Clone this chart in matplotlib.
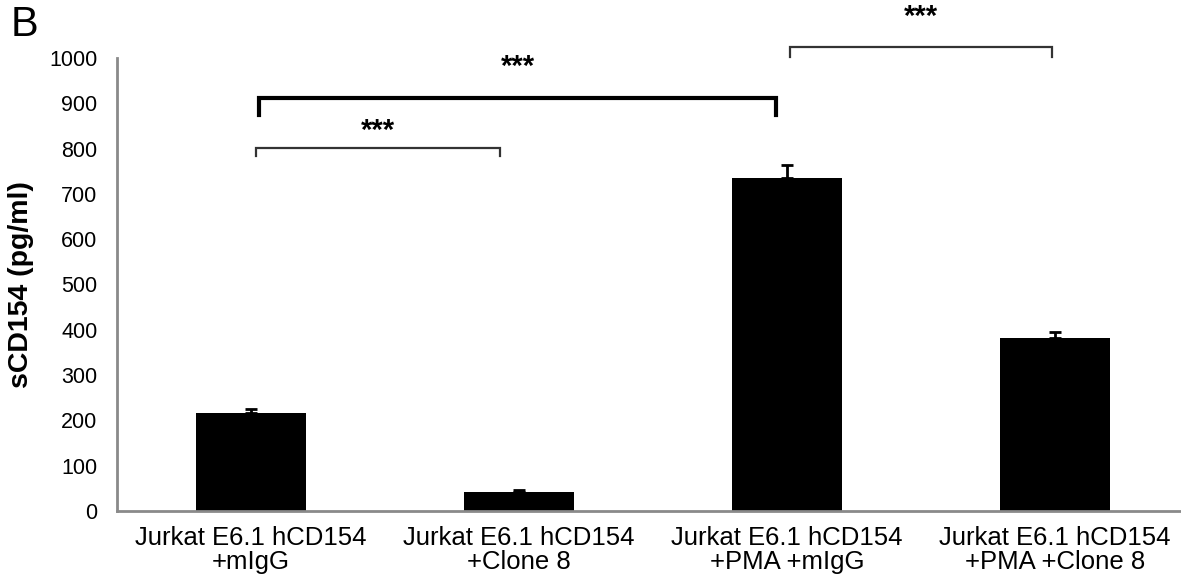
import matplotlib.pyplot as plt
import numpy as np

# data
groups = ["Jurkat E6.1 hCD154\n+mIgG", "Jurkat E6.1 hCD154\n+Clone 8",
          "Jurkat E6.1 hCD154\n+PMA +mIgG", "Jurkat E6.1 hCD154\n+PMA +Clone 8"]
means = [216, 43, 735, 382]
errors = [9, 3, 29, 13]
y_ticks = [0, 100, 200, 300, 400, 500, 600, 700, 800, 900, 1000]

# significance brackets: (x_start, x_end, y_line, y_tick_end, y_star, label)
brackets = [
    (0.02, 0.93, 801, 784, 838, "***"),
    (0.03, 1.96, 912, 874, 980, "***"),
    (2.01, 2.99, 1024, 1002, 1090, "***"),
]

plt.rcParams['font.family'] = ['Liberation Sans', 'DejaVu Sans']

fig = plt.figure(figsize=(11.81, 5.85), dpi=100)
ax = fig.add_axes([0.099, 0.1265, 0.901, 0.7744])

x = np.arange(len(groups))
ax.bar(x, means, width=0.41, color='black', zorder=2)
ax.errorbar(x, means, yerr=[np.zeros(len(errors)), errors], fmt='none',
            ecolor='black', elinewidth=2, capsize=4.5, capthick=2, zorder=3)

ax.set_xlim(-0.5, 3.47)
ax.set_ylim(0, 1000)
ax.set_yticks(y_ticks)
ax.set_yticklabels([str(v) for v in y_ticks], fontsize=15.5)
ax.set_xticks(x)
ax.set_xticklabels(groups, fontsize=18.5, linespacing=0.98)
ax.tick_params(axis='y', length=0, pad=14)
ax.tick_params(axis='x', length=0, pad=11)

for side in ['top', 'right']:
    ax.spines[side].set_visible(False)
for side in ['left', 'bottom']:
    ax.spines[side].set_color('#8a8a8a')
    ax.spines[side].set_linewidth(2)

ax.set_ylabel("sCD154 (pg/ml)", fontsize=20.5, fontweight='bold', labelpad=11)

# significance brackets
for i, (x0, x1, yl, yt, ys, lab) in enumerate(brackets):
    lw = 3 if i == 1 else 1.6
    col = 'black' if i == 1 else '#333333'
    ax.plot([x0, x0, x1, x1], [yt, yl, yl, yt], color=col, lw=lw,
            clip_on=False, solid_joinstyle='miter')
    ax.text((x0 + x1) / 2, ys, lab, ha='center', va='center', fontsize=21,
            fontweight='bold')

fig.text(0.009, 0.958, "B", fontsize=30, ha='left', va='center')

fig.savefig("out.png", dpi=100)
